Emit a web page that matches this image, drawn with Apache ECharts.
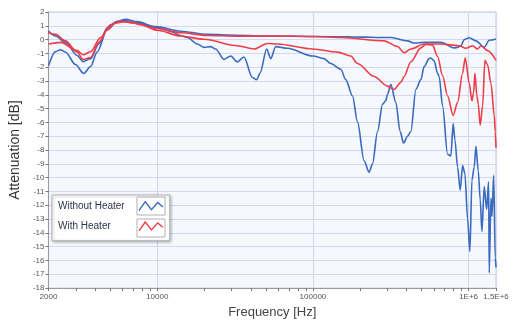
<!DOCTYPE html>
<html>
<head>
<meta charset="utf-8">
<script src="https://cdn.jsdelivr.net/npm/echarts@6/dist/echarts.min.js"></script>
<style>
  html, body { margin: 0; padding: 0; background: #fff; }
  #chart { width: 516px; height: 324px; }
</style>
</head>
<body>
<div id="chart"></div>
<script>
// Without Heater, first measurement (upper blue)
const blueUpperFreq = [2000, 2220, 2570, 3060, 3340, 3730, 4210, 4770, 5390, 6100, 7070, 10000, 14130, 20960, 32700, 53540, 100000, 175000, 316600, 405400, 447000, 518200, 663600, 808200, 850000, 892400, 937200, 1009000, 1114400, 1260400, 1357000, 1500000]
const blueUpperDb = [0.61, 0.26, -0.2, -1.15, -1.6, -1.38, -0.32, 0.85, 1.25, 1.39, 1.25, 0.92, 0.61, 0.38, 0.31, 0.26, 0.22, 0.2, 0.15, -0.09, -0.25, -0.2, -0.2, -0.6, -0.56, -0.44, 0.0, 0.14, -0.09, -0.55, -0.05, 0.05]

// Without Heater, second measurement (lower blue)
const blueLowerFreq = [2000, 2220, 2390, 2570, 2980, 3370, 3730, 4110, 4770, 5530, 6260, 7440, 10000, 12180, 14130, 15600, 18090, 19940, 22020, 23720, 26820, 29620, 32700, 36060, 40840, 43520, 45700, 50460, 53540, 57660, 68580, 100000, 117900, 130180, 150960, 162560, 179600, 193400, 213200, 229600, 241400, 260000, 280000, 293800, 301400, 316600, 340800, 363200, 382000, 405400, 425600, 458400, 493600, 518200, 558000, 572400, 600800, 632000, 647200, 680400, 732800, 769400, 796200, 816600, 850000, 883200, 915200, 946800, 985400, 1019600, 1050400, 1086600, 1114400, 1153200, 1187800, 1218200, 1260400, 1305800, 1345000, 1357000, 1391600, 1412600, 1448600, 1483200, 1500000]
const blueLowerDb = [-1.9, -0.87, -0.73, -0.9, -1.8, -2.45, -1.95, -0.9, 0.73, 1.32, 1.48, 1.3, 0.85, 0.6, 0.3, 0.15, -0.32, -0.56, -0.51, -0.68, -1.43, -1.19, -1.61, -1.26, -2.74, -2.9, -2.44, -0.68, -1.38, -0.51, -0.63, -1.19, -1.38, -1.73, -2.15, -2.9, -4.08, -5.96, -8.77, -9.6, -9.0, -6.66, -4.67, -4.43, -3.96, -3.26, -4.55, -6.66, -7.49, -7.0, -6.66, -3.61, -2.9, -1.96, -1.38, -1.33, -1.54, -2.44, -2.67, -4.8, -8.3, -8.42, -6.08, -7.25, -9.25, -10.9, -9.13, -9.7, -13.0, -15.35, -10.2, -9.25, -7.72, -9.48, -11.6, -13.9, -10.65, -12.3, -10.3, -16.9, -11.5, -12.8, -9.83, -15.8, -16.5]

// With Heater, first measurement (upper red)
const redUpperFreq = [2000, 2220, 2570, 3060, 3340, 3730, 4210, 4770, 5390, 6100, 7070, 10000, 14130, 20960, 32700, 72000, 100000, 150960, 286600, 349600, 385400, 425600, 518200, 663600, 870400, 961000, 1061200, 1142800, 1200200, 1325200, 1500000]
const redUpperDb = [0.5, 0.38, -0.09, -0.9, -1.45, -1.3, -0.2, 0.7, 1.2, 1.3, 1.2, 0.8, 0.5, 0.3, 0.25, 0.26, 0.22, 0.15, -0.09, -0.5, -0.95, -0.68, -0.32, -0.32, -0.44, -0.63, -0.44, -0.68, -0.44, -0.8, -1.5]

// With Heater, second measurement (lower red)
const redLowerFreq = [2000, 2390, 3060, 3340, 3730, 4320, 5010, 5810, 6740, 7810, 10000, 14130, 19940, 32700, 41820, 50980, 59120, 100000, 143800, 175000, 193400, 247200, 301400, 332400, 367000, 385400, 425600, 493600, 531400, 586800, 632000, 680400, 732800, 796200, 850000, 915200, 951200, 1009000, 1050400, 1077000, 1098000, 1131000, 1153200, 1187800, 1230800, 1273400, 1325200, 1391600, 1461600, 1483200, 1500000]
const redLowerDb = [-0.32, -0.2, -0.8, -1.1, -0.87, 0.15, 1.08, 1.32, 1.25, 1.08, 0.68, 0.26, 0.03, -0.44, -0.68, -0.28, -0.32, -0.68, -0.91, -1.19, -1.73, -2.67, -3.37, -3.61, -3.1, -2.67, -1.6, -0.6, -0.35, -0.4, -1.2, -2.6, -4.08, -5.49, -4.55, -2.44, -1.31, -3.14, -4.43, -3.85, -2.44, -4.08, -4.67, -6.2, -4.8, -1.5, -1.85, -3.14, -5.49, -6.66, -7.84]

const xLabelValues = [2000, 10000, 100000, 1000000, 1500000]
const xLabelTexts = ['2000', '10000', '100000', '1E+6', '1,5E+6']
const xMinorTicks = [2000, 3000, 4000, 5000, 6000, 7000, 8000, 9000, 10000, 20000, 30000, 40000, 50000, 60000, 70000, 80000, 90000, 100000, 200000, 300000, 400000, 500000, 600000, 700000, 800000, 900000, 1000000, 1500000]

const BLUE = '#3a6bbf'
const RED = '#ef3d48'
const FONT = 'Liberation Sans, Arial, sans-serif'

function pairs(freq, db) {
  return freq.map((f, i) => [f, db[i]])
}

const zigzag = 'path://M0,13 L7,3 L14,12 L21,4 L27,9'

const chart = echarts.init(document.getElementById('chart'), null, { renderer: 'canvas' })

const lineSeries = (name, color, data) => ({
  name: name,
  type: 'line',
  xAxisIndex: 0,
  showSymbol: false,
  smooth: 0.3,
  smoothMonotone: 'x',
  lineStyle: { color: color, width: 1.6 },
  itemStyle: { color: color },
  data: data
})

const option = {
  animation: false,
  textStyle: { fontFamily: FONT },
  grid: {
    left: 47,
    right: 20,
    top: 12,
    bottom: 28,
    show: true,
    backgroundColor: '#f5f9fd',
    borderColor: '#c8c8d0',
    borderWidth: 1
  },
  legend: {
    orient: 'vertical',
    left: 52,
    top: 195,
    align: 'right',
    itemWidth: 24,
    itemHeight: 13,
    itemGap: 10,
    padding: [6, 6, 9, 6],
    backgroundColor: '#ffffff',
    borderColor: '#b8b8b8',
    borderWidth: 1,
    shadowBlur: 3,
    shadowColor: 'rgba(0,0,0,0.25)',
    shadowOffsetX: 1,
    shadowOffsetY: 1,
    formatter: name => '{t|' + name + '}',
    textStyle: {
      fontFamily: FONT,
      rich: { t: { width: 76, align: 'left', fontSize: 10, color: '#2b3550', fontFamily: FONT } }
    },
    data: [
      { name: 'Without Heater', icon: zigzag, itemStyle: { color: 'transparent', borderColor: BLUE, borderWidth: 1.4 } },
      { name: 'With Heater', icon: zigzag, itemStyle: { color: 'transparent', borderColor: RED, borderWidth: 1.4 } }
    ]
  },
  graphic: [
    { type: 'rect', z: 20, shape: { x: 137, y: 197, width: 28, height: 18 }, style: { fill: 'none', stroke: '#b0b0b0', lineWidth: 1 } },
    { type: 'rect', z: 20, shape: { x: 137, y: 219, width: 28, height: 18 }, style: { fill: 'none', stroke: '#b0b0b0', lineWidth: 1 } }
  ],
  xAxis: [
    {
      type: 'log',
      logBase: 10,
      min: 2000,
      max: 1500000,
      name: 'Frequency [Hz]',
      nameLocation: 'middle',
      nameGap: 14,
      nameTextStyle: { fontSize: 13, color: '#444', fontFamily: FONT },
      axisLine: { show: true, onZero: false, lineStyle: { color: '#9a9a9a', width: 1 } },
      axisTick: { show: true, length: 3, customValues: xMinorTicks, lineStyle: { color: '#777' } },
      axisLabel: {
        customValues: xLabelValues,
        fontSize: 8,
        color: '#555',
        margin: 5,
        formatter: v => {
          const i = xLabelValues.findIndex(x => Math.abs(x - v) / x < 1e-6)
          return i >= 0 ? xLabelTexts[i] : ''
        }
      },
      splitLine: { show: false }
    },
    {
      type: 'log',
      logBase: 10,
      min: 2000,
      max: 1500000,
      position: 'bottom',
      axisLine: { show: false, onZero: false },
      axisTick: { show: false },
      axisLabel: { show: false },
      splitLine: { show: true, lineStyle: { color: '#d6d6ee', width: 1.2 } }
    }
  ],
  yAxis: {
    type: 'value',
    min: -18,
    max: 2,
    interval: 1,
    name: 'Attenuation [dB]',
    nameLocation: 'middle',
    nameGap: 20,
    nameTextStyle: { fontSize: 14, color: '#333', fontFamily: FONT },
    axisLine: { show: true, lineStyle: { color: '#9a9a9a' } },
    axisTick: { show: true, length: 3, lineStyle: { color: '#777' } },
    axisLabel: { fontSize: 8, color: '#555', margin: 4 },
    splitLine: { show: true, lineStyle: { color: '#d6d6ee', width: 1.2 } }
  },
  series: [
    lineSeries('Without Heater', BLUE, pairs(blueUpperFreq, blueUpperDb)),
    lineSeries('Without Heater', BLUE, pairs(blueLowerFreq, blueLowerDb)),
    lineSeries('With Heater', RED, pairs(redUpperFreq, redUpperDb)),
    lineSeries('With Heater', RED, pairs(redLowerFreq, redLowerDb))
  ]
}

chart.setOption(option)
</script>
</body>
</html>
